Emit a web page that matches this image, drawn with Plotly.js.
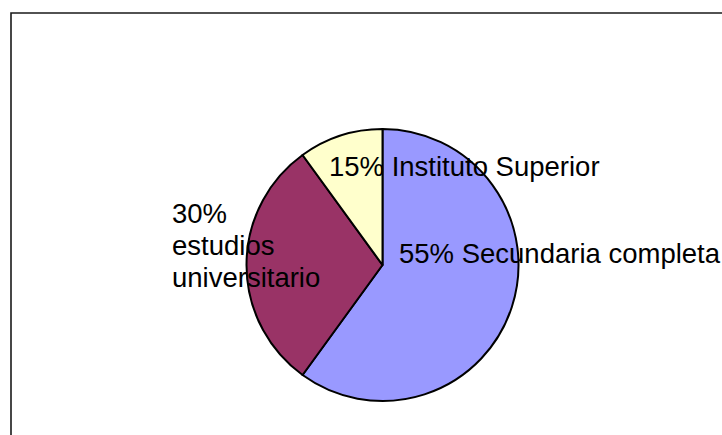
<!DOCTYPE html>
<html>
<head>
<meta charset="utf-8">
<script src="https://cdn.plot.ly/plotly-3.0.1.min.js"></script>
<style>
  html, body { margin: 0; padding: 0; background: #ffffff; }
  #chart { width: 722px; height: 435px; }
</style>
</head>
<body>
<div id="chart"></div>
<script>
// Categories in drawing order (clockwise from 12 o'clock)
const categories = ["Secundaria completa", "estudios universitario", "Instituto Superior"];
// Slice sizes as drawn in the picture
const values = [60, 30, 10];
// Percent labels as printed on the chart
const labelPercents = ["55%", "30%", "15%"];
const colors = ["#9999FF", "#993366", "#FFFFCC"];

const W = 722, H = 435;
const cx = 382.5, cy = 265, r = 136;
const px = x => x / W;
const py = y => 1 - y / H;

const trace = {
  type: "pie",
  labels: categories,
  values: values,
  sort: false,
  direction: "clockwise",
  rotation: 0,
  textinfo: "none",
  hoverinfo: "none",
  marker: { colors: colors, line: { color: "#000000", width: 2 } },
  domain: { x: [px(cx - r), px(cx + r)], y: [py(cy + r), py(cy - r)] },
  showlegend: false
};

const font = { family: "Liberation Sans, Arial, sans-serif", size: 27.5, color: "#000000" };
function ann(text, x, yc) {
  return { text: text, xref: "paper", yref: "paper", x: px(x), y: py(yc),
           xanchor: "left", yanchor: "middle", showarrow: false, font: font, borderpad: 0 };
}

const layout = {
  width: W, height: H,
  margin: { l: 0, r: 0, t: 0, b: 0 },
  paper_bgcolor: "#ffffff",
  plot_bgcolor: "#ffffff",
  showlegend: false,
  shapes: [{
    type: "rect", xref: "paper", yref: "paper",
    x0: px(11), x1: 1.05, y0: -0.05, y1: py(13),
    line: { color: "#1a1a1a", width: 1.6 }, fillcolor: "rgba(0,0,0,0)"
  }],
  annotations: [
    ann(labelPercents[2] + " " + categories[2], 328, 166),
    ann(labelPercents[0] + " " + categories[0], 398, 253),
    ann(labelPercents[1], 171, 213),
    ann("estudios", 171, 245),
    ann("universitario", 171, 277)
  ]
};

Plotly.newPlot("chart", [trace], layout, { staticPlot: true, displayModeBar: false });
</script>
</body>
</html>
